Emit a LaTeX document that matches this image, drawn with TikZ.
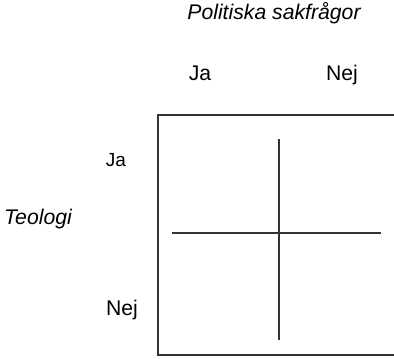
\documentclass[tikz,border=0pt]{standalone}
\usepackage{fontspec}
\setmainfont{Liberation Sans}

\tikzset{
  lbl/.style={anchor=base, inner sep=0pt, font=\fontsize{10.6}{12}\selectfont},
  ilbl/.style={lbl, font=\fontsize{10.6}{12}\selectfont\itshape},
  frame/.style={draw=black!80, line width=1pt}
}

\begin{document}
\begin{tikzpicture}[x=0.5pt,y=-0.5pt]
\useasboundingbox (0,0) rectangle (394,358);
\node[ilbl] (ptitle) at (274,20) {Politiska sakfrågor};
\node[lbl] (pja) at (200,80) {Ja};
\node[lbl] (pnej) at (342,80) {Nej};
\node[ilbl] (teo) at (38,224) {Teologi};
\node[lbl, font=\fontsize{9.5}{11}\selectfont] (tja) at (116,166) {Ja};
\node[lbl] (tnej) at (122,315) {Nej};
\draw [frame] (158,115) rectangle (394.8,355);
\draw [frame] (279,139) -- (279,340);
\draw [frame] (172,233) -- (381,233);
\end{tikzpicture}
\end{document}
